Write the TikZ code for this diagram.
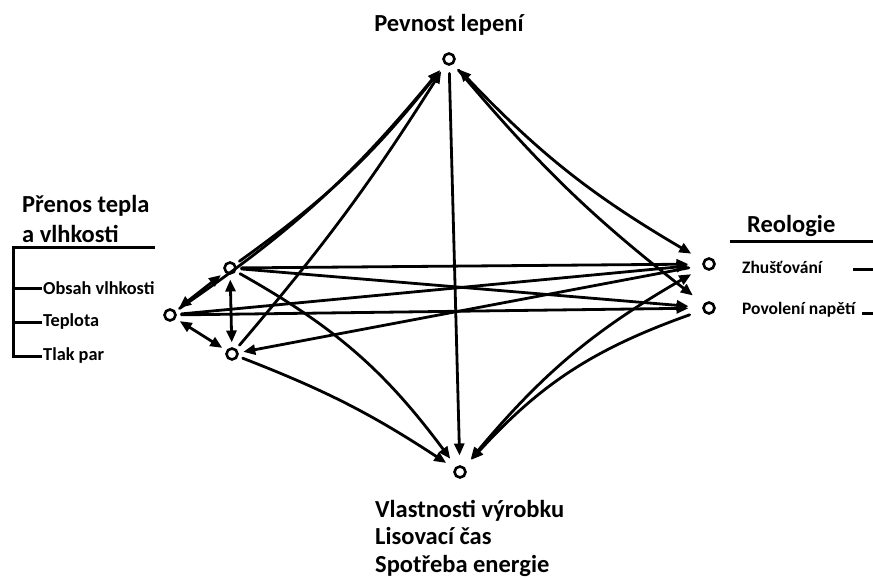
\documentclass[tikz,border=0pt]{standalone}
\usepackage{fontspec}
\setmainfont{Carlito}
\usetikzlibrary{arrows.meta}
\begin{document}
\begin{tikzpicture}[x=1pt,y=-1pt,
  circ/.style={circle,draw,line width=2.6pt,minimum size=11pt,inner sep=0pt},
  con/.style={line width=2.8pt,line cap=round},
  tip/.tip={Triangle[length=12pt,width=10pt]},
  arr/.style={con,-tip},
  darr/.style={con,tip-tip},
  big/.style={font=\bfseries\fontsize{24.5}{28}\selectfont,inner sep=0pt},
  small/.style={font=\bfseries\fontsize{18.3}{21}\selectfont,inner sep=1pt},
  rsmall/.style={font=\bfseries\fontsize{17.5}{21}\selectfont,inner sep=1pt},
]
\useasboundingbox (0,0) rectangle (873,578);
% nodes
\node[circ,outer sep=9pt] (T) at (449,59) {};
\node[circ,outer sep=11pt] (B) at (460,472) {};
\node[circ,outer sep=6pt] (L) at (170,315) {};
\node[circ,outer sep=6pt] (U) at (230,268) {};
\node[circ,outer sep=6pt] (D) at (232,354) {};
\node[circ,outer sep=15pt] (R1) at (709,264) {};
\node[circ,outer sep=15pt] (R2) at (709,308) {};
% labels
\node[big,anchor=base] (tl) at (449,32) {Pevnost lepení};
\node[big,anchor=base west] (l1) at (22,212) {Přenos tepla};
\node[big,anchor=base west] (l2) at (22,242) {a vlhkosti};
\node[big,anchor=base west] (rl) at (747,232) {Reologie};
\node[big,anchor=base west] (b1) at (375,517) {Vlastnosti výrobku};
\node[big,anchor=base west] (b2) at (375,544) {Lisovací čas};
\node[big,anchor=base west] (b3) at (375,572) {Spotřeba energie};
\node[small,anchor=west] (ob) at (42,288) {Obsah vlhkosti};
\node[small,anchor=west] (te) at (42,322) {Teplota};
\node[small,anchor=west] (tp) at (42,356) {Tlak par};
\node[rsmall,anchor=west] (zh) at (741,267) {Zhušťování};
\node[rsmall,anchor=west] (po) at (741,310) {Povolení napětí};
% bracket on the left
\coordinate (k0) at (155,247);
\coordinate (k1) at (13,247);
\coordinate (k2) at (13,288);
\coordinate (k3) at (13,322);
\coordinate (k4) at (13,356);
\draw[line width=3pt] (k0) -- (k1) -- (k4) -- (tp.west);
\draw[line width=3pt] (k2) -- (ob.west);
\draw[line width=3pt] (k3) -- (te.west);
% right lines
\coordinate (r0) at (730,241);
\coordinate (r1) at (873,241);
\draw[line width=3pt] (r0) -- (r1);
\coordinate (z0) at (853,269);
\coordinate (z1) at (873,269);
\draw[line width=3pt] (z0) -- (z1);
\coordinate (p0) at (862,313);
\coordinate (p1) at (873,313);
\draw[line width=3pt] (p0) -- (p1);
% connectors: left cluster
\draw[darr] (L) -- (U);
\draw[darr] (L) -- (D);
\draw[darr] (U) -- (D);
% to top
\draw[arr] (L) to[bend right=8] (T);
\draw[arr] (U) to[bend right=8] (T);
\draw[arr] (D) to[bend right=4] (T);
\draw[arr] (T) -- (B);
\draw[darr] (T) to[bend right=8] (R1);
\draw[arr] (T) to[bend right=6] (R2);
% to bottom
\draw[arr] (U) to[bend left=12] (B);
\draw[arr] (D) to[bend left=6] (B);
\draw[darr] (R1) to[bend right=10] (B);
\draw[arr] (R2) to[bend right=14] (B);
% horizontal
\draw[arr] (U) -- (R1);
\draw[arr] (U) -- (R2);
\draw[arr] (L) -- (R1);
\draw[arr] (L) -- (R2);
\draw[arr] (R1) -- (D);
\end{tikzpicture}
\end{document}
